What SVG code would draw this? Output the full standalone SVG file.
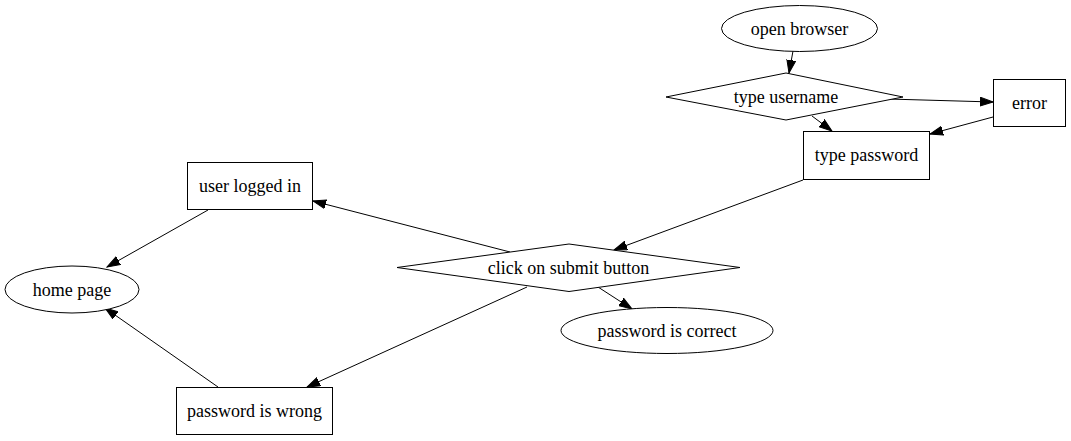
<svg xmlns="http://www.w3.org/2000/svg" width="1071" height="441" viewBox="0 0 1071 441">
<style>
.n{fill:#fff;stroke:#000;stroke-width:1}
.t{font-family:"Liberation Serif","Times New Roman",serif;font-size:18px;text-anchor:middle;fill:#000}
.e{stroke:#000;stroke-width:1;fill:none}
</style>
<defs>
<marker id="a" markerUnits="userSpaceOnUse" markerWidth="14" markerHeight="10" refX="13" refY="5" orient="auto" viewBox="0 0 14 10">
<path d="M0,0.5 L13,5 L0,9.5 z" fill="#000" stroke="#000" stroke-width="1"/>
</marker>
</defs>
<rect width="1071" height="441" fill="#fff"/>
<g id="edges">
<line class="e" x1="793" y1="51" x2="789" y2="73" marker-end="url(#a)"/>
<line class="e" x1="888" y1="99" x2="993" y2="102" marker-end="url(#a)"/>
<line class="e" x1="812" y1="116" x2="832" y2="131" marker-end="url(#a)"/>
<line class="e" x1="993" y1="117" x2="930" y2="134" marker-end="url(#a)"/>
<line class="e" x1="803" y1="180" x2="614" y2="250" marker-end="url(#a)"/>
<line class="e" x1="510" y1="252" x2="313" y2="201" marker-end="url(#a)"/>
<line class="e" x1="208" y1="210" x2="107" y2="267" marker-end="url(#a)"/>
<line class="e" x1="527" y1="287" x2="307" y2="387" marker-end="url(#a)"/>
<line class="e" x1="598" y1="287" x2="632" y2="309" marker-end="url(#a)"/>
<line class="e" x1="218" y1="387" x2="105" y2="308" marker-end="url(#a)"/>
</g>
<g id="open_browser">
<ellipse class="n" cx="799.5" cy="28.5" rx="78" ry="23"/>
<text class="t" x="799.5" y="34.5">open browser</text>
</g>
<g id="type_username">
<polygon class="n" points="786,73 903,97 786,120 666,97"/>
<text class="t" x="786" y="103">type username</text>
</g>
<g id="error">
<rect class="n" x="993.5" y="79.5" width="72" height="47"/>
<text class="t" x="1029.5" y="109">error</text>
</g>
<g id="type_password">
<rect class="n" x="803.5" y="131.5" width="126" height="48"/>
<text class="t" x="866.5" y="161">type password</text>
</g>
<g id="user_logged_in">
<rect class="n" x="187.5" y="162.5" width="125" height="47"/>
<text class="t" x="250" y="192">user logged in</text>
</g>
<g id="home_page">
<ellipse class="n" cx="72" cy="289.5" rx="67" ry="23.5"/>
<text class="t" x="72" y="295.5">home page</text>
</g>
<g id="click_on_submit_button">
<polygon class="n" points="569,244 740,267.5 569,291.5 397,267.5"/>
<text class="t" x="568.5" y="273.5">click on submit button</text>
</g>
<g id="password_is_correct">
<ellipse class="n" cx="667" cy="330.5" rx="106" ry="23"/>
<text class="t" x="667" y="336.5">password is correct</text>
</g>
<g id="password_is_wrong">
<rect class="n" x="176.5" y="387.5" width="156" height="47"/>
<text class="t" x="254.5" y="417">password is wrong</text>
</g>
</svg>
